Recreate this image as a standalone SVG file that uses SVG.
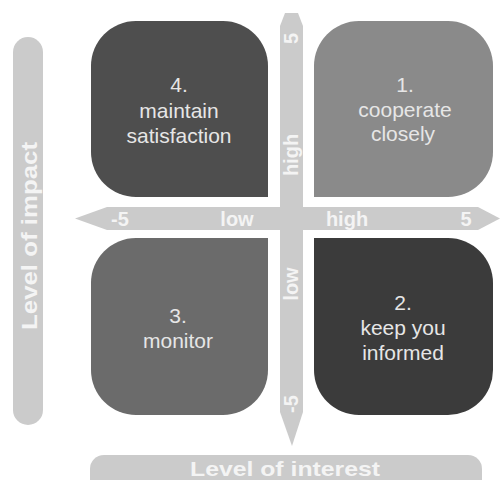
<svg xmlns="http://www.w3.org/2000/svg" width="502" height="480" viewBox="0 0 502 480">
<style>
.bar{fill:#cbcbcb}
.ax{font-family:"Liberation Sans",Arial,sans-serif;font-weight:bold;font-size:20px;fill:#f4f4f4;text-anchor:middle}
.title{font-family:"Liberation Sans",Arial,sans-serif;font-weight:bold;font-size:22px;fill:#f4f4f4;text-anchor:middle}
.q{font-family:"Liberation Sans",Arial,sans-serif;font-size:21px;fill:#e6e6e6;text-anchor:middle}
</style>
<rect width="502" height="480" fill="#ffffff"/>
<g id="axis-impact">
<rect class="bar" x="13" y="37" width="30" height="388" rx="15"/>
<text class="title" transform="translate(37,236) rotate(-90)" textLength="188" lengthAdjust="spacingAndGlyphs">Level of impact</text>
</g>
<g id="axis-interest">
<rect class="bar" x="90" y="455" width="392" height="40" rx="14"/>
<text class="title" x="285" y="475.5" style="font-size:20.5px" textLength="190" lengthAdjust="spacingAndGlyphs">Level of interest</text>
</g>
<g id="connectors">
<polygon class="bar" points="75,218.5 107,207 478,207 500,218.5 478,230 107,230"/>
<polygon class="bar" points="285,13 298,13 303,26 303,412 292,446 280,412 280,26"/>
<text class="ax" x="120" y="226">-5</text>
<text class="ax" x="237" y="226">low</text>
<text class="ax" x="347" y="226">high</text>
<text class="ax" x="466" y="226">5</text>
<text class="ax" transform="translate(298,38.5) rotate(-90)">5</text>
<text class="ax" transform="translate(298,155) rotate(-90)">high</text>
<text class="ax" transform="translate(298,284) rotate(-90)">low</text>
<text class="ax" transform="translate(298,404) rotate(-90)">-5</text>
</g>
<g id="q4">
<path d="M136 21 H223 A45 45 0 0 1 268 66 V197 H136 A45 45 0 0 1 91 152 V66 A45 45 0 0 1 136 21 Z" fill="#4e4e4e"/>
<text class="q" x="179" y="92">4.</text>
<text class="q" x="179" y="117.5">maintain</text>
<text class="q" x="179" y="143">satisfaction</text>
</g>
<g id="q1">
<path d="M359 21 H448 A45 45 0 0 1 493 66 V152 A45 45 0 0 1 448 197 H314 V66 A45 45 0 0 1 359 21 Z" fill="#8a8a8a"/>
<text class="q" x="405" y="92">1.</text>
<text class="q" x="405" y="117">cooperate</text>
<text class="q" x="403" y="141">closely</text>
</g>
<g id="q3">
<path d="M136 238 H268 V370 A45 45 0 0 1 223 415 H136 A45 45 0 0 1 91 370 V283 A45 45 0 0 1 136 238 Z" fill="#6b6b6b"/>
<text class="q" x="178" y="323">3.</text>
<text class="q" x="178" y="348">monitor</text>
</g>
<g id="q2">
<path d="M314 238 H448 A45 45 0 0 1 493 283 V370 A45 45 0 0 1 448 415 H359 A45 45 0 0 1 314 370 Z" fill="#3b3b3b"/>
<text class="q" x="403" y="310">2.</text>
<text class="q" x="403" y="335">keep you</text>
<text class="q" x="403" y="360">informed</text>
</g>
</svg>
